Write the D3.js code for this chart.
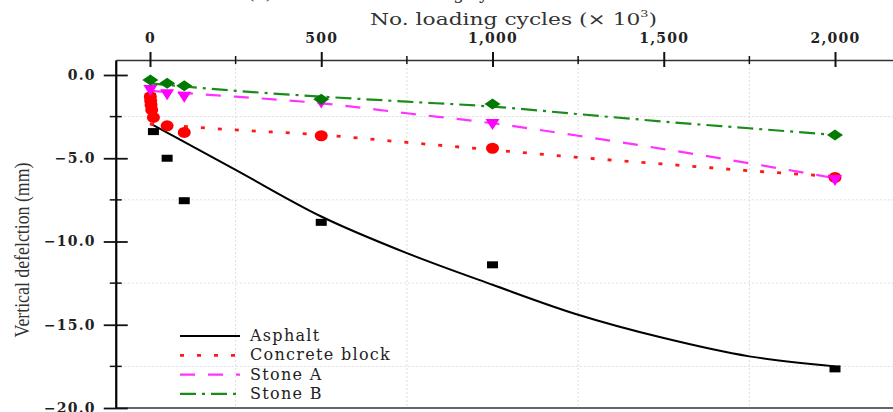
<!DOCTYPE html>
<html>
<head>
<meta charset="utf-8">
<script src="https://cdn.jsdelivr.net/npm/d3@7"></script>
<style>
  body { margin: 0; background: #fff; }
  svg { display: block; }
</style>
</head>
<body>
<div id="chart-area"></div>
<script>
// measured points (cycles in thousands, deflection in mm)
var asphaltCycles = [1, 10, 50, 100, 500, 1000, 2000];
var asphalt = [-1.3, -3.4, -5.0, -7.55, -8.85, -11.4, -17.65];

var concreteCycles = [1, 2, 3, 5, 10, 50, 100, 500, 1000, 2000];
var concrete = [-1.3, -1.55, -1.8, -2.1, -2.55, -3.05, -3.45, -3.65, -4.4, -6.15];

var stoneACycles = [1, 50, 100, 500, 1000, 2000];
var stoneA = [-0.9, -1.15, -1.3, -1.65, -2.95, -6.3];

var stoneBCycles = [1, 50, 100, 500, 1000, 2000];
var stoneB = [-0.3, -0.5, -0.65, -1.45, -1.75, -3.6];

// trend lines
var fitCycles = [0, 250, 500, 750, 1000, 1250, 1500, 1750, 2000];
var asphaltFit = [-2.9, -5.7, -8.5, -10.7, -12.6, -14.4, -15.8, -16.9, -17.5];
var concreteFit = [-2.95, -3.3, -3.6, -4.05, -4.5, -4.95, -5.35, -5.75, -6.1];
var stoneAFit = [-0.95, -1.3, -1.7, -2.3, -2.9, -3.65, -4.45, -5.3, -6.2];
var stoneBFit = [-0.5, -0.95, -1.3, -1.6, -1.9, -2.35, -2.8, -3.2, -3.6];

var xTicks = [0, 500, 1000, 1500, 2000];
var xMinor = [250, 750, 1250, 1750];
var yTicks = [0, -5, -10, -15, -20];
var yMinor = [-2.5, -7.5, -12.5, -17.5];

var legendNames = ['Asphalt', 'Concrete block', 'Stone A', 'Stone B'];

var W = 893, H = 412;

var svg = d3.select('#chart-area')
    .append('svg')
    .attr('width', W)
    .attr('height', H);

var x = d3.scaleLinear().domain([-100, 2200]).range([115.75, 903.5]);
var y = d3.scaleLinear().domain([0.9, -20]).range([60, 408]);

var serif = 'DejaVu Serif';

// figure caption, mostly cut off by the top edge
svg.append('text')
    .attr('x', 248)
    .attr('y', -1.5)
    .attr('font-family', serif)
    .attr('font-size', '17px')
    .attr('fill', '#333')
    .text('(b) Deflection vs. loading cycles');

// grid
var grid = svg.append('g').attr('stroke', '#ddd').attr('stroke-dasharray', '2,2').attr('stroke-width', 1);
grid.selectAll('.gx').data(xMinor).enter().append('line')
    .attr('x1', d => x(d)).attr('x2', d => x(d))
    .attr('y1', y.range()[0]).attr('y2', y.range()[1]);
grid.selectAll('.gy').data(yMinor).enter().append('line')
    .attr('x1', x.range()[0]).attr('x2', W)
    .attr('y1', d => y(d)).attr('y2', d => y(d));

// bottom frame
svg.append('line')
    .attr('x1', x.range()[0]).attr('x2', W)
    .attr('y1', 408).attr('y2', 408)
    .attr('stroke', '#666').attr('stroke-width', 2);

// top axis
var xAxisCall = d3.axisTop(x).tickValues(xTicks).tickSizeInner(8).tickSizeOuter(0)
    .tickFormat(d3.format(','));
var xg = svg.append('g')
    .attr('transform', 'translate(0,60)')
    .call(xAxisCall);
xg.select('.domain').attr('stroke', '#333').attr('stroke-width', 1.5);
xg.selectAll('.tick line').attr('y2', 7).attr('y1', -8).attr('stroke', '#111').attr('stroke-width', 2);
xg.selectAll('.tick text')
    .attr('y', -17)
    .attr('font-family', serif)
    .attr('font-weight', 'bold')
    .attr('font-size', '14px')
    .attr('letter-spacing', '1.2px')
    .attr('fill', '#222');
xg.selectAll('.minor').data(xMinor).enter().append('line')
    .attr('x1', d => x(d)).attr('x2', d => x(d))
    .attr('y1', -4).attr('y2', 4)
    .attr('stroke', '#111').attr('stroke-width', 1.5);

// left axis
var yAxisCall = d3.axisLeft(y).tickValues(yTicks).tickSizeInner(12).tickSizeOuter(0)
    .tickFormat(d3.format('.1f'));
var yg = svg.append('g')
    .attr('transform', 'translate(' + x.range()[0] + ',0)')
    .call(yAxisCall);
yg.select('.domain').attr('stroke', '#000').attr('stroke-width', 2.2);
yg.selectAll('.tick line').attr('x1', 12).attr('stroke', '#111').attr('stroke-width', 1.8);
yg.selectAll('.tick text')
    .attr('x', -20)
    .attr('font-family', serif)
    .attr('font-weight', 'bold')
    .attr('font-size', '14px')
    .attr('letter-spacing', '1.2px')
    .attr('fill', '#222');
yg.selectAll('.minor').data(yMinor).enter().append('line')
    .attr('x1', -6).attr('x2', 6)
    .attr('y1', d => y(d)).attr('y2', d => y(d))
    .attr('stroke', '#111').attr('stroke-width', 1.5);

// axis titles
var xt = svg.append('text')
    .attr('x', 370)
    .attr('y', 25)
    .attr('font-family', serif)
    .attr('font-size', '17px')
    .attr('fill', '#333')
    .attr('textLength', 287)
    .attr('lengthAdjust', 'spacingAndGlyphs');
xt.append('tspan').text('No. loading cycles (× 10');
xt.append('tspan').attr('font-size', '10px').attr('dy', -8).text('3');
xt.append('tspan').attr('dy', 8).text(')');

svg.append('text')
    .attr('transform', 'translate(29,250) rotate(-90)')
    .attr('text-anchor', 'middle')
    .attr('font-family', 'Liberation Serif')
    .attr('font-size', '20px')
    .attr('fill', '#333')
    .attr('textLength', 175)
    .attr('lengthAdjust', 'spacingAndGlyphs')
    .text('Vertical defelction (mm)');

// trend lines
var line = d3.line()
    .x(d => x(d[0]))
    .y(d => y(d[1]))
    .curve(d3.curveMonotoneX);

var series = [
    { fit: asphaltFit, color: '#000', dash: null, width: 2 },
    { fit: concreteFit, color: '#ff1a1a', dash: '4,13', width: 2.8 },
    { fit: stoneAFit, color: '#ff33ff', dash: '15,13', width: 2.2 },
    { fit: stoneBFit, color: '#1a8c1a', dash: '16,6,3,6', width: 2.2 }
];

series.forEach(s => {
    svg.append('path')
        .datum(fitCycles.map((c, i) => [c, s.fit[i]]))
        .attr('fill', 'none')
        .attr('stroke', s.color)
        .attr('stroke-width', s.width)
        .attr('stroke-dasharray', s.dash)
        .attr('d', line);
});

// markers
svg.selectAll('.sq')
    .data(asphaltCycles.map((c, i) => [c, asphalt[i]]))
    .enter().append('rect')
    .attr('x', d => x(d[0]) - 5.5)
    .attr('y', d => y(d[1]) - 3.5)
    .attr('width', 11)
    .attr('height', 7)
    .attr('fill', '#000');

svg.selectAll('.ci')
    .data(concreteCycles.map((c, i) => [c, concrete[i]]))
    .enter().append('ellipse')
    .attr('cx', d => x(d[0]))
    .attr('cy', d => y(d[1]))
    .attr('rx', 6.5)
    .attr('ry', 5.5)
    .attr('fill', '#ff0000');

svg.selectAll('.tri')
    .data(stoneACycles.map((c, i) => [c, stoneA[i]]))
    .enter().append('path')
    .attr('transform', d => 'translate(' + x(d[0]) + ',' + y(d[1]) + ')')
    .attr('d', 'M-7,-5L7,-5L0,6Z')
    .attr('fill', '#ff00ff');

svg.selectAll('.dia')
    .data(stoneBCycles.map((c, i) => [c, stoneB[i]]))
    .enter().append('path')
    .attr('transform', d => 'translate(' + x(d[0]) + ',' + y(d[1]) + ')')
    .attr('d', 'M-8,0L0,-5.5L8,0L0,5.5Z')
    .attr('fill', '#007a00');

// legend
var legend = svg.append('g').attr('transform', 'translate(180,336)');
legendNames.forEach((name, i) => {
    var s = series[i];
    var row = legend.append('g').attr('transform', 'translate(0,' + (i * 19.3) + ')');
    row.append('line')
        .attr('x1', 0).attr('x2', 60)
        .attr('stroke', s.color)
        .attr('stroke-width', s.width)
        .attr('stroke-dasharray', s.dash);
    row.append('text')
        .attr('x', 70)
        .attr('y', 5)
        .attr('font-family', serif)
        .attr('font-size', '16px')
        .attr('letter-spacing', '1.3px')
        .attr('fill', '#222')
        .text(name);
});
</script>
</body>
</html>
